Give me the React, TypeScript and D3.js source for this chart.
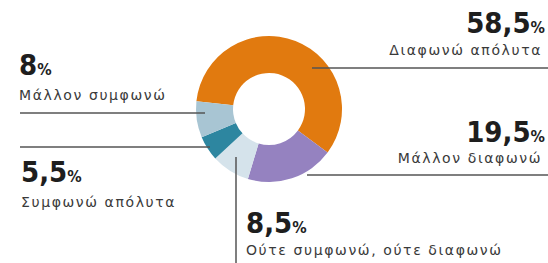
import React from "react";
import * as d3 from "d3";

// Survey answers, in drawing order (clockwise from the left)
const categories = [
  "Διαφωνώ απόλυτα",
  "Μάλλον διαφωνώ",
  "Ούτε συμφωνώ, ούτε διαφωνώ",
  "Συμφωνώ απόλυτα",
  "Μάλλον συμφωνώ",
];
const values = [58.5, 19.5, 8.5, 5.5, 8];
const valueLabels = ["58,5", "19,5", "8,5", "5,5", "8"];
const colors = ["#e17a0f", "#9582c0", "#d5e3eb", "#2d86a0", "#a8c5d3"];

// label placement for each slice
const layout = [
  { anchor: "end", x: 545, numY: 33, textY: 55, line: [[312, 68], [548, 68]] },
  { anchor: "end", x: 545, numY: 142, textY: 163, line: [[307, 175], [548, 175]] },
  { anchor: "start", x: 246, numY: 233, textY: 255, line: [[236, 157], [236, 263]] },
  { anchor: "start", x: 21, numY: 182, textY: 207, line: [[20, 147], [210, 147]] },
  { anchor: "start", x: 19, numY: 75, textY: 100, line: [[20, 113], [205, 113]] },
];

const width = 548;
const height = 263;
const cx = 269;
const cy = 109;
const outerR = 73;
const innerR = 36;

const App: React.FC = () => {
  const pie = d3
    .pie<number>()
    .sort(null)
    .startAngle((-84 * Math.PI) / 180)
    .endAngle((276 * Math.PI) / 180);
  const arcs = pie(values);
  const arc = d3.arc<d3.PieArcDatum<number>>().innerRadius(innerR).outerRadius(outerR);

  return (
    <svg
      width={width}
      height={height}
      style={{ position: "absolute", left: 0, top: 0, background: "#fff" }}
    >
      <g transform={`translate(${cx},${cy})`}>
        {arcs.map((a, i) => (
          <path key={i} d={arc(a) || ""} fill={colors[i]} />
        ))}
      </g>
      {layout.map((l, i) => (
        <g key={i}>
          <line
            x1={l.line[0][0]}
            y1={l.line[0][1]}
            x2={l.line[1][0]}
            y2={l.line[1][1]}
            stroke="#555"
            strokeWidth={1.5}
          />
          <text
            x={l.x}
            y={l.numY}
            textAnchor={l.anchor}
            fontFamily="'DejaVu Sans Condensed', 'DejaVu Sans', sans-serif"
            fontWeight="bold"
            fill="#1e1e1e"
          >
            <tspan fontSize={29}>{valueLabels[i]}</tspan>
            <tspan fontSize={16}>%</tspan>
          </text>
          <text
            x={l.x - (l.anchor === "end" ? 3 : 0)}
            y={l.textY}
            textAnchor={l.anchor}
            fontFamily="'DejaVu Sans', sans-serif"
            fontSize={14}
            letterSpacing={1.6}
            fill="#3a3a3a"
          >
            {categories[i]}
          </text>
        </g>
      ))}
    </svg>
  );
};

export default App;
